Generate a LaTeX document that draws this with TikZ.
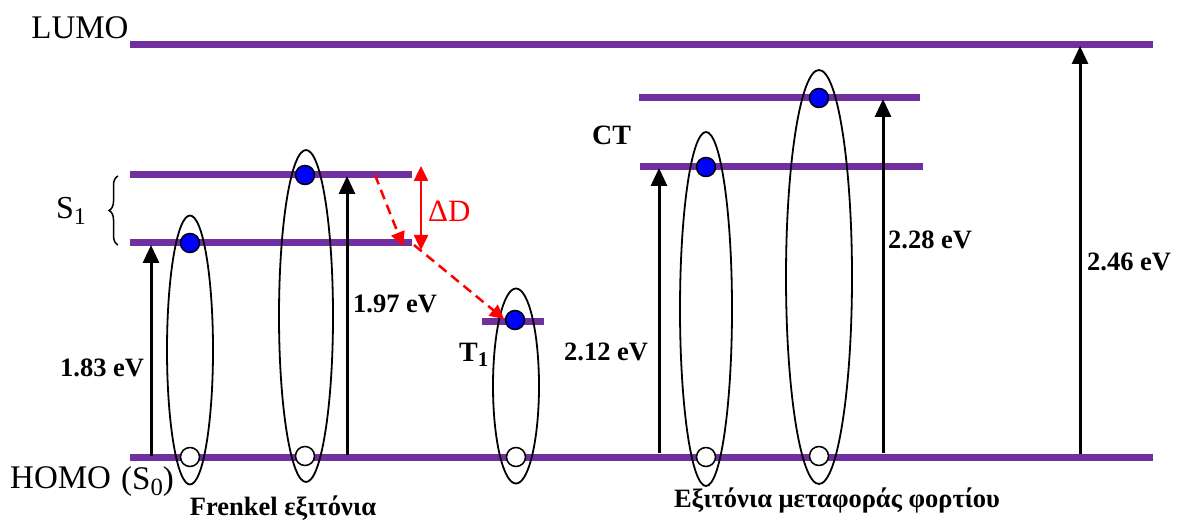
\documentclass[tikz,border=0pt]{standalone}
\usepackage{fontspec}
\setmainfont{Liberation Serif}
\usetikzlibrary{arrows.meta,shapes.geometric,decorations.pathreplacing}
\definecolor{lev}{HTML}{7030A0}
\newcommand{\sbx}[1]{\raisebox{-0.18em}{\scalebox{0.75}{#1}}}
\tikzset{
 level/.style={draw=lev,line width=7pt},
 exc/.style={draw,ellipse,line width=1.8pt,inner sep=0pt},
 elec/.style={circle,draw,fill=blue,line width=1.5pt,minimum size=19pt,inner sep=0pt},
 hole/.style={circle,draw,fill=white,line width=1.5pt,minimum size=19pt,inner sep=0pt},
 trans/.style={line width=3pt,-{Triangle[width=16pt,length=18pt]}},
 lab/.style={font=\bfseries\fontsize{26.5}{30}\selectfont,anchor=west,inner sep=0pt},
 big/.style={font=\fontsize{33}{38}\selectfont,inner sep=0pt},
 reddash/.style={draw=red,line width=2.5pt,dash pattern=on 10pt off 6pt,-{Triangle[width=14pt,length=14pt]}},
}
\begin{document}
\begin{tikzpicture}[x=1pt,y=-1pt]
\useasboundingbox (0,0) rectangle (1177,529);
% level end points
\coordinate (L0) at (130,45);  \coordinate (L1) at (1153,45);
\coordinate (H0) at (130,457); \coordinate (H1) at (1153,457);
\coordinate (Su0) at (130,175); \coordinate (Su1) at (412,175);
\coordinate (Sl0) at (130,243); \coordinate (Sl1) at (412,243);
\coordinate (T0) at (482,321); \coordinate (T1) at (544,321);
\coordinate (Cu0) at (639,98); \coordinate (Cu1) at (920,98);
\coordinate (Cl0) at (640,167); \coordinate (Cl1) at (923,167);
\draw[level] (L0) -- (L1);
\draw[level] (H0) -- (H1);
\draw[level] (Su0) -- (Su1);
\draw[level] (Sl0) -- (Sl1);
\draw[level] (T0) -- (T1);
\draw[level] (Cu0) -- (Cu1);
\draw[level] (Cl0) -- (Cl1);
% texts
\node[big] (lumo) at (80,28) {LUMO};
\node[big,anchor=west] (homo) at (10,478) {HOMO};
\node[font=\fontsize{33}{37}\selectfont,anchor=west,inner sep=0pt] (s0) at (121,482) {(S\sbx{0})};
\node[font=\fontsize{32}{36}\selectfont,anchor=west,inner sep=0pt] (s1) at (56,211) {S\sbx{1}};
\node[font=\bfseries\fontsize{28}{32}\selectfont,anchor=west,inner sep=0pt] (ct) at (592,135) {CT};
\node[font=\bfseries\fontsize{28}{32}\selectfont,anchor=west,inner sep=0pt] (t1) at (459,355) {T\sbx{1}};
\node[font=\fontsize{31}{35}\selectfont,anchor=west,inner sep=0pt,text=red] (dd) at (428,211) {ΔD};
\node[lab,anchor=center] (fr) at (283,508) {Frenkel εξιτόνια};
\node[lab,anchor=center] (ct2) at (837,500) {Εξιτόνια μεταφοράς φορτίου};
% brace
\draw[line width=1.5pt,decorate,decoration={brace,amplitude=9pt}] (118,245) -- (118,176);
% excitons
\node[exc,minimum width=46pt,minimum height=269pt] (e1) at (190,350) {};
\node[exc,minimum width=54pt,minimum height=332pt] (e2) at (306,316) {};
\node[exc,minimum width=46pt,minimum height=195pt] (e3) at (516,386) {};
\node[exc,minimum width=52pt,minimum height=354pt] (e4) at (706,309) {};
\node[exc,minimum width=66pt,minimum height=414pt] (e5) at (819,277) {};
\node[elec] (b1) at (190,243) {};
\node[hole] (w1) at (190,457) {};
\node[elec] (b2) at (305,175) {};
\node[hole] (w2) at (305,456) {};
\node[elec] (b3) at (515,320) {};
\node[hole] (w3) at (516,457) {};
\node[elec] (b4) at (706,167) {};
\node[hole] (w4) at (706,457) {};
\node[elec] (b5) at (819,98) {};
\node[hole] (w5) at (819,456) {};
% transitions
\coordinate (a1s) at (151,456); \coordinate (a1e) at (151,245);
\coordinate (a2s) at (347,455); \coordinate (a2e) at (347,176);
\coordinate (a3s) at (659,453); \coordinate (a3e) at (659,168);
\coordinate (a4s) at (883,453); \coordinate (a4e) at (883,99);
\coordinate (a5s) at (1080,454); \coordinate (a5e) at (1080,46);
\draw[trans] (a1s) -- (a1e);
\draw[trans] (a2s) -- (a2e);
\draw[trans] (a3s) -- (a3e);
\draw[trans] (a4s) -- (a4e);
\draw[trans] (a5s) -- (a5e);
\node[lab] (v1) at (60,368) {1.83 eV};
\node[lab] (v2) at (353,304) {1.97 eV};
\node[lab] (v3) at (564,352) {2.12 eV};
\node[lab] (v4) at (888,240) {2.28 eV};
\node[lab] (v5) at (1087,262) {2.46 eV};
% red arrows
\coordinate (r1s) at (375,175); \coordinate (r1e) at (403,246);
\coordinate (r2s) at (414,245); \coordinate (r2e) at (504,319);
\coordinate (dda) at (421,166); \coordinate (ddb) at (421,250);
\draw[reddash] (r1s) -- (r1e);
\draw[reddash] (r2s) -- (r2e);
\draw[draw=red,line width=2.5pt,{Triangle[width=14pt,length=15pt]}-{Triangle[width=14pt,length=15pt]}] (dda) -- (ddb);
\end{tikzpicture}
\end{document}
